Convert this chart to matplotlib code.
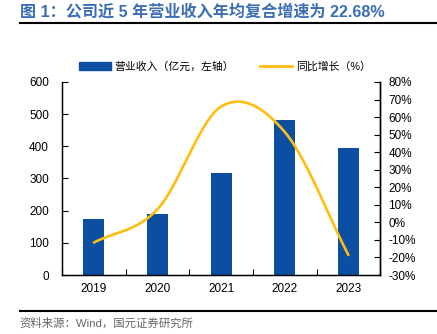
import numpy as np
import matplotlib.pyplot as plt
from matplotlib.lines import Line2D

plt.rcParams['font.family'] = ['Liberation Sans', 'Noto Sans CJK SC', 'DejaVu Sans']

years = ['2019', '2020', '2021', '2022', '2023']
revenue = [173, 190, 318, 482, 395]        # 营业收入（亿元）
growth = [-11.5, 7.5, 66.0, 51.5, -18.6]   # 同比增长（%）

bar_color = '#0B4EA2'
line_color = '#FFBE0F'


def smooth(xs, ys, n=40):
    # Catmull-Rom curve through the points, like a smoothed line in a spreadsheet
    xs = np.asarray(xs, float)
    ys = np.asarray(ys, float)
    px = np.concatenate([[2 * xs[0] - xs[1]], xs, [2 * xs[-1] - xs[-2]]])
    py = np.concatenate([[2 * ys[0] - ys[1]], ys, [2 * ys[-1] - ys[-2]]])
    outx, outy = [], []
    t = np.linspace(0, 1, n)
    for i in range(1, len(px) - 2):
        for p, out in ((px, outx), (py, outy)):
            m0 = (p[i + 1] - p[i - 1]) / 2
            m1 = (p[i + 2] - p[i]) / 2
            h00 = 2 * t**3 - 3 * t**2 + 1
            h10 = t**3 - 2 * t**2 + t
            h01 = -2 * t**3 + 3 * t**2
            h11 = t**3 - t**2
            out.extend(h00 * p[i] + h10 * m0 + h01 * p[i + 1] + h11 * m1)
    return np.array(outx), np.array(outy)


fig = plt.figure(figsize=(4.37, 3.34), dpi=100)
ax = fig.add_axes([0.142, 0.1766, 0.728, 0.578])
x = np.arange(len(years))
ax.bar(x, revenue, width=0.33, color=bar_color, zorder=2)
ax.set_xlim(-0.5, 4.5)
ax.set_ylim(0, 600)
ax.set_yticks(range(0, 601, 100))
ax.set_xticks(np.arange(-0.5, 4.6, 1))
ax.set_xticklabels([])
ax.set_xticks(x, minor=True)
ax.set_xticklabels(years, minor=True)
ax.tick_params(axis='x', which='minor', length=0, pad=6, labelsize=8.5)
ax.tick_params(axis='x', which='major', direction='in', length=4)
ax.tick_params(axis='y', direction='in', length=4, labelsize=8.5, pad=9.5)
ax.spines['top'].set_visible(False)
for s in ['left', 'bottom', 'right']:
    ax.spines[s].set_linewidth(1.0)

ax2 = ax.twinx()
sx, sy = smooth(x, growth)
ax2.plot(sx, sy, color=line_color, lw=1.9, zorder=3, solid_capstyle='round')
ax2.set_ylim(-30, 80)
ax2.set_yticks(range(-30, 81, 10))
ax2.set_yticklabels([f'{v}%' for v in range(-30, 81, 10)])
ax2.tick_params(axis='y', direction='in', length=4, labelsize=8.5, pad=6)
ax2.spines['top'].set_visible(False)
ax2.spines['right'].set_linewidth(1.0)

handles = [plt.Rectangle((0, 0), 1, 1, color=bar_color),
           Line2D([], [], color=line_color, lw=2)]
fig.legend(handles, ['营业收入（亿元，左轴）', '同比增长（%）'],
           loc='center left', bbox_to_anchor=(0.181, 0.80), ncol=2, frameon=False,
           fontsize=7.8, handlelength=2.9, columnspacing=2.4, handletextpad=0.4,
           borderpad=0, borderaxespad=0)

fig.text(0.045, 0.964, '图 1：公司近 5 年营业收入年均复合增速为 22.68%', color='#3C6EB4',
         fontsize=11.6, fontweight='bold', va='center', ha='left')
fig.add_artist(Line2D([0.045, 1.0], [0.93, 0.93], color='black', lw=1.5))
fig.add_artist(Line2D([0.045, 1.0], [0.069, 0.069], color='black', lw=1.5))
fig.text(0.045, 0.032, '资料来源：Wind，国元证券研究所', color='#666666', fontsize=8.2,
         va='center', ha='left')

fig.savefig('out.png', dpi=100)
